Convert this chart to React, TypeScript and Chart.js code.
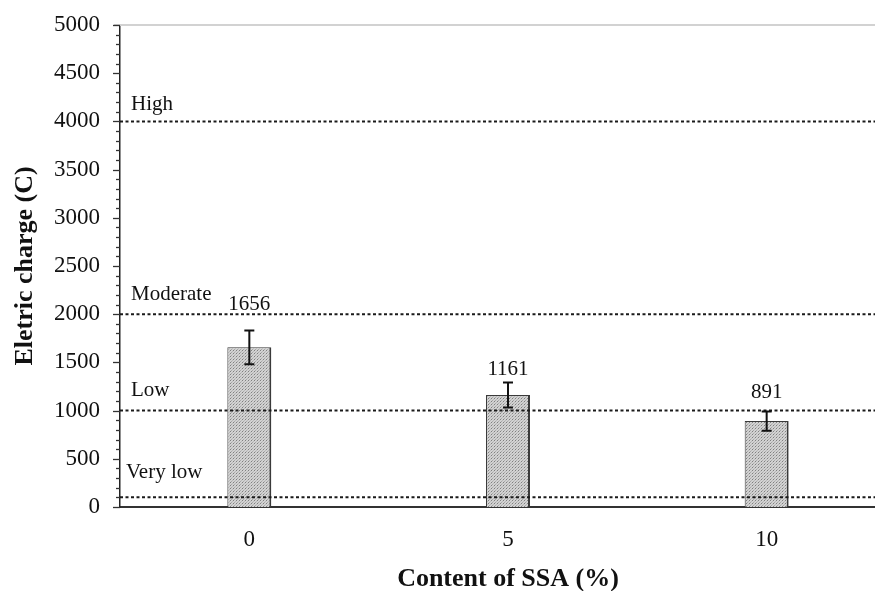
import React, { useEffect, useRef } from "react";
import { Chart, registerables } from "chart.js";

Chart.register(...registerables);

const categories = ["0", "5", "10"];
const values = [1656, 1161, 891];
const errors = [176, 130, 100];
const levelValues = [4000, 2000, 1000, 100];
const levelNames = ["High", "Moderate", "Low", "Very low"];
const yMin = 0;
const yMax = 5000;
const yMajorStep = 500;
const yMinorStep = 100;

// styling helpers (pixel offsets for annotation text)
const labelOffsets = [26, 13, 19];
const levelTextRise = [11, 14, 15, 19];
const levelTextIndent = [11, 11, 11, 6];

function makePattern(): CanvasPattern | string {
  const c = document.createElement("canvas");
  c.width = 3;
  c.height = 3;
  const g = c.getContext("2d");
  if (!g) return "#cccccc";
  g.fillStyle = "#d2d2d2";
  g.fillRect(0, 0, 3, 3);
  g.fillStyle = "#808080";
  g.fillRect(0, 0, 1, 1);
  g.fillStyle = "#a8a8a8";
  g.fillRect(1, 2, 1, 1);
  g.fillStyle = "#b8b8b8";
  g.fillRect(2, 1, 1, 1);
  const p = g.createPattern(c, "repeat");
  return p || "#cccccc";
}

const SERIF = "'Liberation Serif', 'Times New Roman', serif";

const annotations = {
  id: "annotations",
  beforeDatasetsDraw(chart: any) {
    const { ctx, chartArea, scales } = chart;
    const y = scales.y;
    ctx.save();
    ctx.strokeStyle = "#d2d2d2";
    ctx.lineWidth = 2;
    ctx.beginPath();
    ctx.moveTo(chartArea.left - 6, chartArea.top);
    ctx.lineTo(chartArea.right + 20, chartArea.top);
    ctx.stroke();
    ctx.strokeStyle = "#333";
    ctx.lineWidth = 1.3;
    for (let v = yMin; v <= yMax; v += yMinorStep) {
      const py = Math.round(y.getPixelForValue(v)) + 0.5;
      const len = v % yMajorStep === 0 ? 7 : 4;
      ctx.beginPath();
      ctx.moveTo(chartArea.left - len, py);
      ctx.lineTo(chartArea.left, py);
      ctx.stroke();
    }
    ctx.restore();
  },
  afterDatasetsDraw(chart: any) {
    const { ctx, chartArea, scales } = chart;
    const x = scales.x;
    const y = scales.y;
    ctx.save();
    ctx.strokeStyle = "#1a1a1a";
    ctx.lineWidth = 2;
    ctx.setLineDash([3, 2.5]);
    levelValues.forEach((v) => {
      const py = y.getPixelForValue(v);
      ctx.beginPath();
      ctx.moveTo(chartArea.left, py);
      ctx.lineTo(chartArea.right + 20, py);
      ctx.stroke();
    });
    ctx.setLineDash([]);
    ctx.fillStyle = "#111";
    ctx.font = `21px ${SERIF}`;
    ctx.textAlign = "left";
    ctx.textBaseline = "alphabetic";
    levelValues.forEach((v, i) => {
      const py = y.getPixelForValue(v);
      ctx.fillText(levelNames[i], chartArea.left + levelTextIndent[i], py - levelTextRise[i]);
    });
    ctx.strokeStyle = "#111";
    ctx.lineWidth = 2;
    values.forEach((v, i) => {
      const px = x.getPixelForValue(i);
      const top = y.getPixelForValue(v + errors[i]);
      const bot = y.getPixelForValue(v - errors[i]);
      ctx.beginPath();
      ctx.moveTo(px, top);
      ctx.lineTo(px, bot);
      ctx.moveTo(px - 5, top);
      ctx.lineTo(px + 5, top);
      ctx.moveTo(px - 5, bot);
      ctx.lineTo(px + 5, bot);
      ctx.stroke();
    });
    ctx.fillStyle = "#111";
    ctx.font = `21px ${SERIF}`;
    ctx.textAlign = "center";
    ctx.textBaseline = "middle";
    values.forEach((v, i) => {
      const px = x.getPixelForValue(i);
      const top = y.getPixelForValue(v + errors[i]);
      ctx.fillText(String(v), px, top - labelOffsets[i]);
    });
    ctx.restore();
  },
};

export default function App() {
  const ref = useRef<HTMLCanvasElement | null>(null);
  useEffect(() => {
    if (!ref.current) return;
    const chart = new Chart(ref.current, {
      type: "bar",
      data: {
        labels: categories,
        datasets: [
          {
            data: values,
            backgroundColor: makePattern() as any,
            borderColor: "#3a3a3a",
            borderWidth: { top: 1, left: 1, right: 2, bottom: 0 } as any,
            borderSkipped: false,
            barPercentage: 0.17,
            categoryPercentage: 1,
          },
        ],
      },
      options: {
        responsive: false,
        animation: false,
        devicePixelRatio: 1,
        layout: { padding: { top: 17, right: 12, left: 0, bottom: 0 } },
        plugins: {
          legend: { display: false },
          tooltip: { enabled: false },
        },
        scales: {
          x: {
            grid: { display: false, drawTicks: false },
            border: { display: true, color: "#333", width: 2 },
            ticks: {
              color: "#111",
              font: { family: SERIF, size: 23 },
              padding: 19,
            },
            title: {
              display: true,
              text: "Content of SSA (%)",
              color: "#111",
              font: { family: SERIF, size: 26, weight: "bold" },
              padding: { top: 0, bottom: -4 },
            },
            afterFit(scale: any) {
              scale.height = 84;
              scale.paddingLeft = 0;
              scale.paddingRight = 0;
            },
          },
          y: {
            min: yMin,
            max: yMax,
            grid: { display: false, drawTicks: false },
            border: { display: true, color: "#222", width: 1.5 },
            ticks: {
              stepSize: yMajorStep,
              color: "#111",
              font: { family: SERIF, size: 23 },
              padding: 20,
              callback: (v: any) => String(v),
            },
            title: {
              display: true,
              text: "Eletric charge (C)",
              color: "#111",
              font: { family: SERIF, size: 26, weight: "bold" },
              padding: { top: 2, bottom: 0 },
            },
            afterFit(scale: any) {
              scale.width = 112;
              scale.paddingTop = 0;
              scale.paddingBottom = 0;
            },
          },
        },
      },
      plugins: [annotations],
    });
    return () => chart.destroy();
  }, []);
  return (
    <div style={{ width: 875, height: 583, overflow: "hidden", background: "#fff" }}>
      <canvas ref={ref} width={900} height={583} style={{ display: "block" }} />
    </div>
  );
}
